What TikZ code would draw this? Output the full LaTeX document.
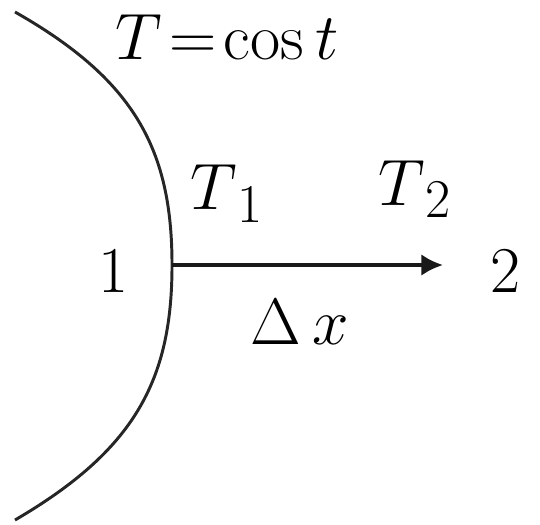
\documentclass[tikz,border=0pt]{standalone}
\usepackage{amsmath}
\usepackage{tikz}
\usetikzlibrary{arrows.meta,positioning}

\begin{document}
\begin{tikzpicture}[>={Latex[length=3.6mm,width=3.6mm]}, font=\fontsize{31}{36}\selectfont,
  lbl/.style={inner sep=0pt, anchor=base west},
  mth/.style={lbl, font=\fontsize{24.88}{30}\selectfont, scale=1.25},
  wall/.style={line width=1.4pt, black!85},
  sig/.style={->, line width=1.8pt, black!90}]
  \useasboundingbox (-2.867,-4.333) rectangle (6.133,4.417);
  \coordinate (top) at (-2.617,4.217);
  \coordinate (mid) at (0,0);
  \coordinate (bot) at (-2.617,-4.25);
  \coordinate (tip) at (4.517,0);
  \draw[wall] (top) .. controls (-0.617,3.083) and (0,1.917) .. (mid)
                    .. controls (0,-1.917) and (-0.617,-3.083) .. (bot);
  \draw[sig] (mid) -- (tip);
  \node[mth] (tcon) at (-0.95,3.417) {$T\!=\!\cos t$};
  \node[mth] (t1) at (0.3,0.917)  {$T_{\,1}$};
  \node[mth] (t2) at (3.433,1.0)  {$T_{\,2}$};
  \node[inner sep=0pt, anchor=base] (one) at (-0.967,-0.45) {1};
  \node[inner sep=0pt, anchor=base] (two) at (5.55,-0.45)   {2};
  \node[mth] (dx) at (1.3,-1.333) {$\Delta\,x$};
\end{tikzpicture}
\end{document}
